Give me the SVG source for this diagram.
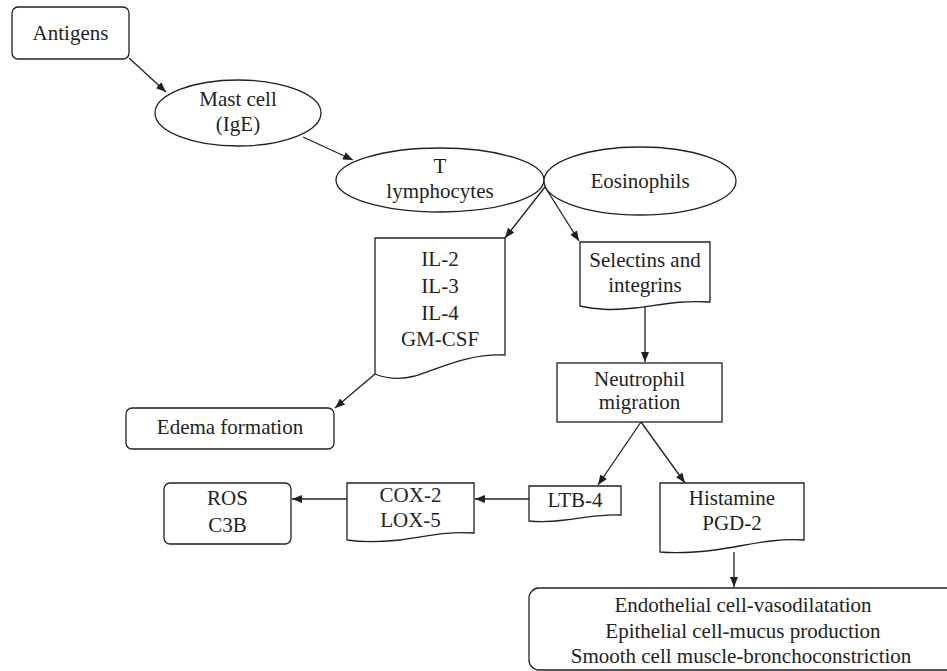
<svg xmlns="http://www.w3.org/2000/svg" width="947" height="671" viewBox="0 0 947 671">
<defs>
<marker id="ah" markerUnits="userSpaceOnUse" markerWidth="10" markerHeight="8" refX="10" refY="4" orient="auto">
<path d="M0,0 L10,4 L0,8 z" fill="#231f20"/>
</marker>
<style>
.s{fill:#fff;stroke:#231f20;stroke-width:1.3}
.t{font-family:"Liberation Serif","Times New Roman",serif;font-size:21px;fill:#231f20;text-anchor:middle}
.c{stroke:#231f20;stroke-width:1.3;fill:none;marker-end:url(#ah)}
</style>
</defs>
<rect width="947" height="671" fill="#fff"/>
<g id="connectors">
<line class="c" x1="129" y1="58" x2="166" y2="92"/>
<line class="c" x1="303" y1="137" x2="353" y2="160"/>
<line class="c" x1="545" y1="187" x2="505" y2="238"/>
<line class="c" x1="545" y1="187" x2="579" y2="241"/>
<line class="c" x1="645" y1="306" x2="645" y2="362"/>
<line class="c" x1="641" y1="422" x2="598" y2="485"/>
<line class="c" x1="641" y1="422" x2="685" y2="483"/>
<line class="c" x1="529" y1="499" x2="475" y2="499"/>
<line class="c" x1="347" y1="499" x2="292" y2="499"/>
<line class="c" x1="734" y1="552" x2="734" y2="587"/>
<line class="c" x1="375" y1="374" x2="335" y2="408"/>
</g>
<g id="antigens">
<rect class="s" x="12" y="7" width="117" height="52" rx="6"/>
<text class="t" x="70.5" y="40">Antigens</text>
</g>
<g id="mast-cell">
<ellipse class="s" cx="238" cy="113" rx="83" ry="33"/>
<text class="t" x="238" y="106">Mast cell</text>
<text class="t" x="238" y="131">(IgE)</text>
</g>
<g id="t-lymphocytes">
<ellipse class="s" cx="440" cy="180" rx="104" ry="32"/>
<text class="t" x="440" y="173">T</text>
<text class="t" x="440" y="198">lymphocytes</text>
</g>
<g id="eosinophils">
<ellipse class="s" cx="640" cy="181" rx="96" ry="34"/>
<text class="t" x="640" y="188">Eosinophils</text>
</g>
<g id="interleukins">
<path class="s" d="M375,238 H505 V355 C470,353 440,368 415,376 C400,380 385,378 375,374 Z"/>
<text class="t" x="440" y="266">IL-2</text>
<text class="t" x="440" y="293">IL-3</text>
<text class="t" x="440" y="320">IL-4</text>
<text class="t" x="440" y="346">GM-CSF</text>
</g>
<g id="selectins">
<path class="s" d="M580,242 H710 V302 C680,300 660,305 635,308 C610,311 595,309 580,306 Z"/>
<text class="t" x="645" y="267">Selectins and</text>
<text class="t" x="645" y="292">integrins</text>
</g>
<g id="neutrophil">
<rect class="s" x="557" y="363" width="165" height="59"/>
<text class="t" x="639.5" y="386">Neutrophil</text>
<text class="t" x="639.5" y="409">migration</text>
</g>
<g id="edema">
<rect class="s" x="126" y="408" width="208" height="41" rx="6"/>
<text class="t" x="230" y="434">Edema formation</text>
</g>
<g id="ltb4">
<path class="s" d="M529,486 H621 V515 C600,514 585,518 565,520 C550,522 538,522 529,521 Z"/>
<text class="t" x="575" y="507">LTB-4</text>
</g>
<g id="cox-lox">
<path class="s" d="M347,483 H474 V533 C445,531 425,537 400,540 C380,542 360,542 347,540 Z"/>
<text class="t" x="410.5" y="502">COX-2</text>
<text class="t" x="410.5" y="527">LOX-5</text>
</g>
<g id="ros">
<rect class="s" x="164" y="483" width="127" height="61" rx="6"/>
<text class="t" x="227.5" y="505">ROS</text>
<text class="t" x="227.5" y="532">C3B</text>
</g>
<g id="histamine">
<path class="s" d="M660,483 H804 V540 C770,538 745,546 715,550 C690,553 672,553 660,552 Z"/>
<text class="t" x="732" y="505">Histamine</text>
<text class="t" x="732" y="530">PGD-2</text>
</g>
<g id="effects">
<rect class="s" x="529" y="588" width="440" height="82" rx="10"/>
<text class="t" x="743" y="612">Endothelial cell-vasodilatation</text>
<text class="t" x="743" y="638">Epithelial cell-mucus production</text>
<text class="t" x="741" y="663">Smooth cell muscle-bronchoconstriction</text>
</g>
</svg>
